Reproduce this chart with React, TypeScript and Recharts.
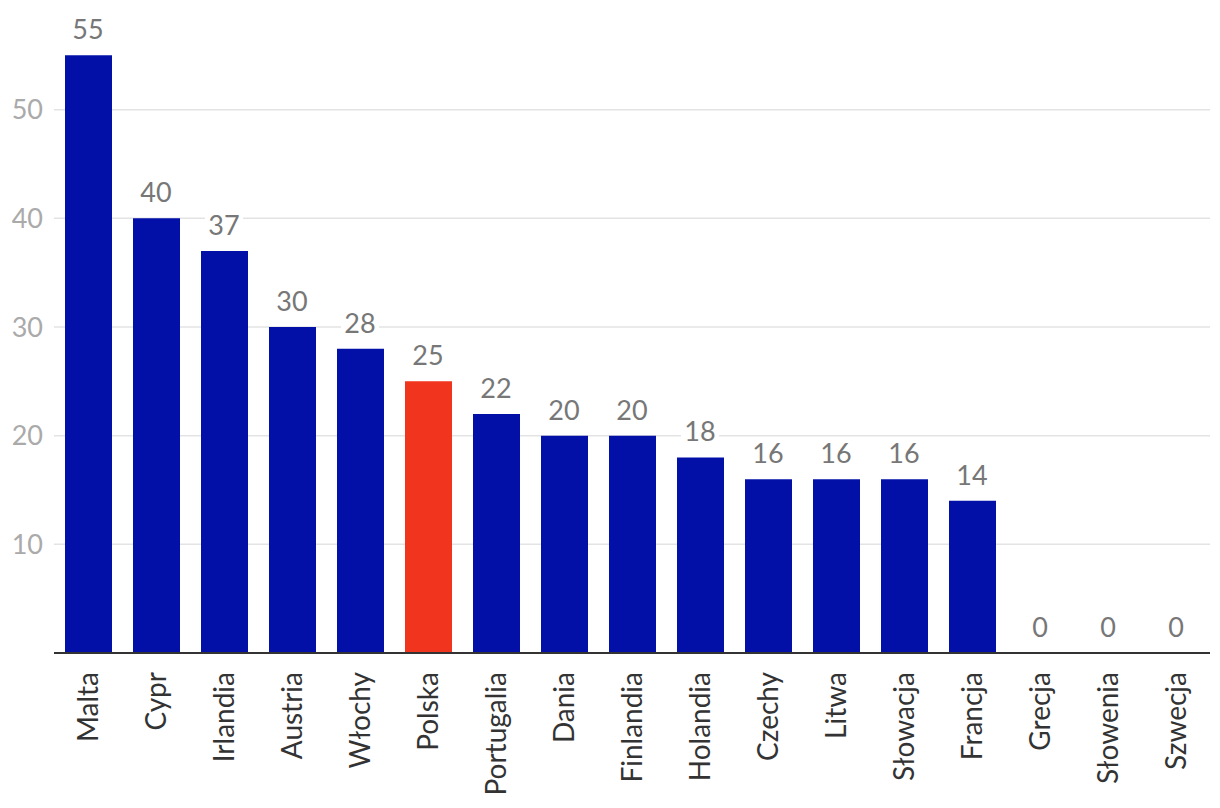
import { ComposedChart, Bar, Line, XAxis, YAxis, CartesianGrid, LabelList, Cell } from 'recharts';

const countries = [
  'Malta', 'Cypr', 'Irlandia', 'Austria', 'Włochy', 'Polska', 'Portugalia', 'Dania',
  'Finlandia', 'Holandia', 'Czechy', 'Litwa', 'Słowacja', 'Francja', 'Grecja', 'Słowenia', 'Szwecja',
];
const values = [55, 40, 37, 30, 28, 25, 22, 20, 20, 18, 16, 16, 16, 14, 0, 0, 0];
const yTicks = [10, 20, 30, 40, 50];
const yMax = 60;
const highlight = 'Polska';

const data = countries.map((name, i) => ({ name, value: values[i] }));

const FONT = 'Lato, "Noto Sans", sans-serif';

// rotated category label, reading bottom-to-top
function CountryTick(props: any) {
  const { x, y, payload } = props;
  return (
    <text
      x={0}
      y={0}
      transform={`translate(${x},${y + 11}) rotate(-90)`}
      textAnchor="end"
      dy="0.36em"
      fill="#333"
      fontSize={28}
      fontFamily={FONT}
    >
      {payload.value}
    </text>
  );
}

// value label with a white box behind it (hides the grid line)
function ValueLabel(props: any) {
  const { x, y, value } = props;
  const w = String(value).length * 16 + 6;
  return (
    <g>
      <rect x={x - w / 2} y={y - 40} width={w} height={28} fill="#fff" />
      <text x={x} y={y - 16} textAnchor="middle" fill="#777" fontSize={27} fontFamily={FONT}>
        {value}
      </text>
    </g>
  );
}

export default function App() {
  return (
    <div style={{ position: 'absolute', left: 0, top: 0, background: '#fff' }}>
      <ComposedChart
        width={1220}
        height={808}
        data={data}
        margin={{ top: 1, right: 10, left: 0, bottom: 0 }}
        barSize={47}
      >
        <CartesianGrid
          vertical={false}
          stroke="#e3e3e3"
          strokeWidth={1.5}
          horizontalCoordinatesGenerator={({ offset }: any) =>
            yTicks.map((t) => offset.top + offset.height * (1 - t / yMax))
          }
        />
        <XAxis
          dataKey="name"
          interval={0}
          height={155}
          tick={<CountryTick />}
          tickLine={false}
          axisLine={{ stroke: '#333', strokeWidth: 2 }}
        />
        <YAxis
          width={54}
          domain={[0, yMax]}
          ticks={yTicks}
          axisLine={false}
          tickLine={false}
          tickMargin={5}
          tick={{ fill: '#aaa', fontSize: 27, fontFamily: FONT }}
        />
        <Bar dataKey="value" isAnimationActive={false}>
          {data.map((d) => (
            <Cell key={d.name} fill={d.name === highlight ? '#F0341E' : '#0210A8'} />
          ))}
        </Bar>
        <Line dataKey="value" stroke="none" dot={false} activeDot={false} isAnimationActive={false}>
          <LabelList dataKey="value" content={<ValueLabel />} />
        </Line>
      </ComposedChart>
    </div>
  );
}
